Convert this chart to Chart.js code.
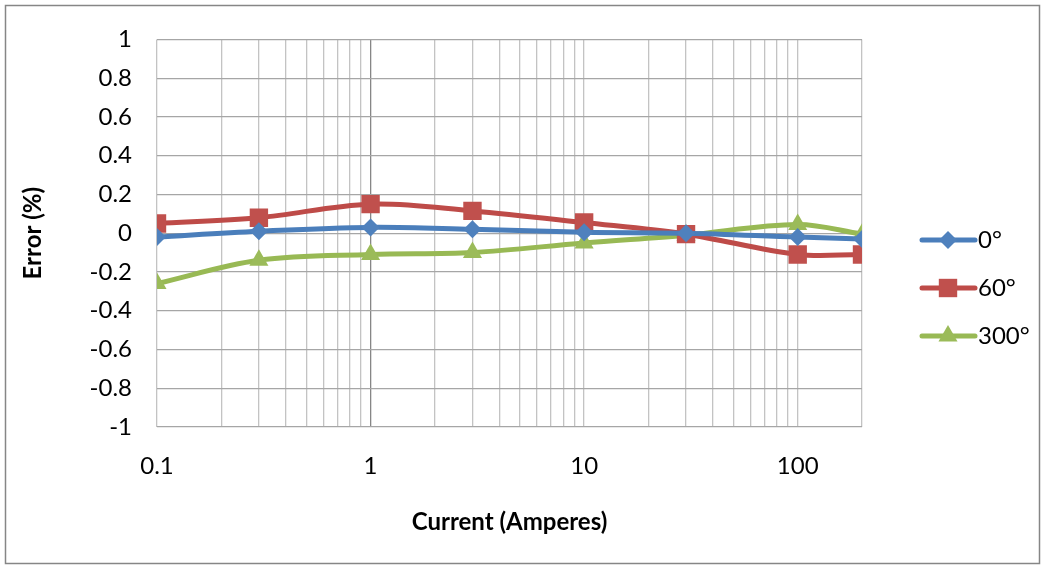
<!DOCTYPE html>
<html>
<head>
<meta charset="utf-8">
<script src="https://cdn.jsdelivr.net/npm/chart.js@4"></script>
<style>
  html, body { margin: 0; padding: 0; background: #fff; }
  #wrap { width: 1045px; height: 568px; position: relative; }
</style>
</head>
<body>
<div id="wrap"><canvas id="chart"></canvas></div>
<script>
// values
const current = [0.1, 0.3, 1, 3, 10, 30, 100, 200];
const err0 = [-0.02, 0.01, 0.03, 0.02, 0.005, 0, -0.02, -0.03];
const err60 = [0.05, 0.08, 0.15, 0.115, 0.055, -0.005, -0.11, -0.11];
const err300 = [-0.26, -0.14, -0.11, -0.1, -0.05, -0.01, 0.045, -0.005];
const seriesNames = ['0°', '60°', '300°'];
const xLabels = [0.1, 1, 10, 100];

const FONT = 'Lato, Calibri, "Open Sans", sans-serif';
const SIZE = 24;

const styles = [
    { color: '#4a7ebb', fill: '#4f81bd', pointStyle: 'rectRot', radius: 9 },
    { color: '#be4b48', fill: '#c0504d', pointStyle: 'rect', radius: 13 },
    { color: '#98b954', fill: '#9bbb59', pointStyle: 'triangle', radius: 11 }
];

function toPoints(values) {
    return values.map((v, i) => ({ x: current[i], y: v }));
}

const datasets = [err0, err60, err300].map((values, i) => ({
    label: seriesNames[i],
    data: toPoints(values),
    borderColor: styles[i].color,
    backgroundColor: styles[i].fill,
    borderWidth: 5,
    pointStyle: styles[i].pointStyle,
    pointRadius: styles[i].radius,
    pointHoverRadius: styles[i].radius,
    pointBorderWidth: 0,
    tension: 0.35
}));

// outer frame of the chart
const framePlugin = {
    id: 'frame',
    beforeDraw(chart) {
        const ctx = chart.ctx;
        ctx.save();
        ctx.fillStyle = '#fff';
        ctx.fillRect(0, 0, chart.width, chart.height);
        ctx.strokeStyle = '#868686';
        ctx.lineWidth = 1.5;
        ctx.strokeRect(5.5, 5.5, 1034, 558);
        ctx.restore();
    }
};

// legend on the right: line with marker, then label
const legendPlugin = {
    id: 'sideLegend',
    afterDraw(chart) {
        const ctx = chart.ctx;
        const rows = [240, 288, 336];
        ctx.save();
        chart.data.datasets.forEach((ds, i) => {
            const y = rows[i];
            ctx.strokeStyle = ds.borderColor;
            ctx.lineWidth = 5;
            ctx.lineCap = 'round';
            ctx.beginPath();
            ctx.moveTo(922, y);
            ctx.lineTo(975, y);
            ctx.stroke();
            ctx.fillStyle = ds.backgroundColor;
            Chart.helpers.drawPoint(ctx, {
                pointStyle: ds.pointStyle,
                radius: ds.pointRadius,
                rotation: 0,
                borderWidth: 0
            }, 948, y);
            ctx.fillStyle = '#000';
            ctx.font = SIZE + 'px ' + FONT;
            ctx.textBaseline = 'middle';
            ctx.textAlign = 'left';
            ctx.fillText(ds.label, 978, y);
        });
        ctx.restore();
    }
};

const config = {
    type: 'line',
    data: { datasets: datasets },
    options: {
        responsive: true,
        maintainAspectRatio: false,
        animation: false,
        layout: { padding: { left: 0, top: 36, right: 183, bottom: 0 } },
        plugins: {
            legend: { display: false },
            tooltip: { enabled: false }
        },
        scales: {
            x: {
                type: 'logarithmic',
                min: 0.1,
                max: 200,
                afterBuildTicks: (scale) => {
                    const ticks = [];
                    [0.1, 1, 10].forEach(d => {
                        for (let k = 1; k <= 9; k++) ticks.push({ value: +(d * k).toPrecision(3) });
                    });
                    ticks.push({ value: 100 }, { value: 200 });
                    scale.ticks = ticks;
                },
                afterFit: (scale) => { scale.height = 141; },
                border: { display: false },
                grid: {
                    drawTicks: false,
                    color: (c) => (c.tick && c.tick.value === 1 ? '#868686' : '#c3c3c3'),
                    lineWidth: 1.3
                },
                ticks: {
                    autoSkip: false,
                    maxRotation: 0,
                    padding: 25,
                    color: '#000',
                    font: { family: FONT, size: SIZE },
                    callback: (v) => (xLabels.includes(v) ? String(v) : '')
                },
                title: {
                    display: true,
                    text: 'Current (Amperes)',
                    color: '#000',
                    font: { family: FONT, size: SIZE, weight: 'bold' },
                    padding: { top: 31, bottom: 31 }
                }
            },
            y: {
                min: -1,
                max: 1,
                afterFit: (scale) => { scale.width = 157; },
                border: { display: false },
                grid: {
                    drawTicks: false,
                    color: '#a6a6a6',
                    lineWidth: 1.3
                },
                ticks: {
                    stepSize: 0.2,
                    padding: 25,
                    color: '#000',
                    font: { family: FONT, size: SIZE },
                    callback: (v) => String(Math.round(v * 10) / 10)
                },
                title: {
                    display: true,
                    text: 'Error (%)',
                    color: '#000',
                    font: { family: FONT, size: SIZE, weight: 'bold' },
                    padding: { top: 19, bottom: 19 }
                }
            }
        }
    },
    plugins: [framePlugin, legendPlugin]
};

const ctx = document.getElementById('chart').getContext('2d');
const myChart = new Chart(ctx, config);
</script>
</body>
</html>
